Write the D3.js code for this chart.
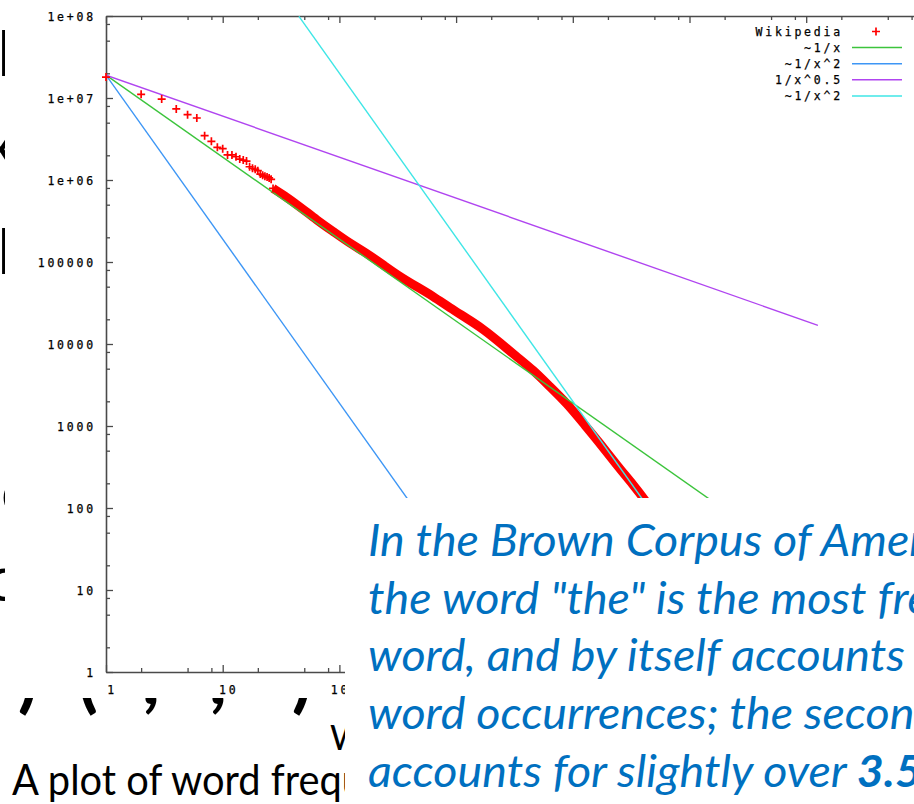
<!DOCTYPE html>
<html>
<head>
<meta charset="utf-8">
<script src="https://cdn.jsdelivr.net/npm/d3@7"></script>
<style>
  html, body { margin: 0; padding: 0; background: #fff; overflow: hidden; }
  svg { display: block; }
</style>
</head>
<body>
<svg id="slide" width="914" height="804"></svg>
<script>
// ---- Wikipedia word frequencies (rank, occurrences) ----
const wikiRank = [1, 2, 3, 4, 5, 6, 7, 8, 9, 10, 11, 12, 13, 14, 15, 16, 17, 18, 19, 20,
  21, 22, 23, 24, 25, 26, 27, 33, 46, 64, 89, 123, 171, 238, 331, 460, 638, 887, 1233,
  1711, 2378, 3305, 4592, 6382, 8868, 12300, 17100, 23800, 33000, 41600, 55000, 80000, 120000];
const wikiFreq = [1.80e7, 1.11e7, 9.7e6, 7.35e6, 6.26e6, 5.70e6, 3.47e6, 2.96e6, 2.50e6, 2.41e6,
  2.02e6, 2.02e6, 1.92e6, 1.80e6, 1.75e6, 1.70e6, 1.45e6, 1.39e6, 1.35e6, 1.30e6,
  1.18e6, 1.14e6, 1.11e6, 1.09e6, 1.06e6, 1.02e6, 7.9e5, 6.6e5, 4.7e5, 3.25e5, 2.34e5,
  1.69e5, 1.28e5, 9.2e4, 6.6e4, 5.0e4, 3.8e4, 2.75e4, 2.06e4, 1.52e4, 1.04e4, 7.0e3,
  4.8e3, 3.0e3, 1.9e3, 1.08e3, 615, 334, 191, 125, 70, 32, 12];
// ranks from here on overlap into a solid band of markers
const denseFrom = 27;

// ---- reference power laws, given by their end points (rank, occurrences) ----
const fitInvX    = [[1, 1.9e7], [1.26e6, 15.1]];     // ~1/x
const fitInvX2   = [[1, 1.9e7], [4360, 1]];          // ~1/x^2
const fitInvSqrt = [[1, 1.9e7], [1.26e6, 16900]];    // 1/x^0.5
const fitInvX2b  = [[45, 9.9e7], [447000, 1]];       // ~1/x^2 (shifted)

const legendLabels = ["Wikipedia", "~1/x", "~1/x^2", "1/x^0.5", "~1/x^2"];
const seriesColors = ["#ff0000", "#3cc43c", "#3d96f5", "#b045f0", "#3fe6e6"];

// ---- axis ticks ----
const xMajorTicks = [1, 10, 100, 1000, 1e4, 1e5, 1e6, 1e7];
const xTickLabels = ["1", "10", "100", "1000", "10000", "100000", "1e+06", "1e+07"];
const yMajorTicks = [1, 10, 100, 1000, 1e4, 1e5, 1e6, 1e7, 1e8];
const yTickLabels = ["1", "10", "100", "1000", "10000", "100000", "1e+06", "1e+07", "1e+08"];
const minorSteps = [2, 5, 8];

// ---- slide text ----
const noteLines = [
  [{ t: "In the Brown Corpus of American English text," }],
  [{ t: "the word \"the\" is the most frequently occurring" }],
  [{ t: "word, and by itself accounts for nearly 7% of all" }],
  [{ t: "word occurrences; the second-place word \"of\"" }],
  [{ t: "accounts for slightly over " }, { t: "3.5%", b: true }, { t: " of words" }]
];
const captionText = "A plot of word frequency in Wikipedia (November 27, 2006)";
const sideGlyphs = [
  { ch: "l", x: -2.5, y: 76 }, { ch: "x", x: -15, y: 166 }, { ch: "l", x: -2.5, y: 274 },
  { ch: "s", x: -27, y: 401 }, { ch: "o", x: 1, y: 514 }, { ch: "c", x: -13, y: 601 }
];
const formulaGlyphs = [
  { ch: ")", x: 28 }, { ch: "(", x: 88 }, { ch: ",", x: 151 }, { ch: ",", x: 218 }, { ch: ")", x: 302 }
];

const svg = d3.select("#slide");

// ---------- slide background text (mostly hidden behind the chart) ----------
const bg = svg.append("g").attr("fill", "#000").style("font-family", "Lato, 'Open Sans', sans-serif");
bg.selectAll("text.side").data(sideGlyphs).join("text")
  .attr("class", "side").attr("x", d => d.x).attr("y", d => d.y)
  .style("font-size", "62px").text(d => d.ch);
bg.selectAll("text.formula").data(formulaGlyphs).join("text")
  .attr("class", "formula").attr("x", d => d.x).attr("y", 704)
  .attr("text-anchor", "middle").style("font-size", "74px").style("font-weight", 700)
  .text(d => d.ch);
bg.append("text").attr("x", 330).attr("y", 750).style("font-size", "34px").text("W");

// caption, compressed to the slide's narrow face
const cap = bg.append("text").attr("y", 0).style("font-size", "43px").text("A plot of word freq");
const capScale = 330 / cap.node().getComputedTextLength();
cap.text(captionText).attr("transform", `translate(12,795) scale(${capScale},1)`);

// ---------- chart ----------
const chart = svg.append("g");
chart.append("rect").attr("x", 5).attr("y", 0).attr("width", 909).attr("height", 698).attr("fill", "#fff");

const x = d3.scaleLog().domain([1, 1e7]).range([106, 106 + 7 * 116.7]);
const y = d3.scaleLog().domain([1, 1e8]).range([672, 16]);

const minorOf = majors => majors.slice(0, -1).flatMap(d => minorSteps.map(m => d * m));
const xMinor = minorOf(xMajorTicks);
const yMinor = minorOf(yMajorTicks);

chart.append("clipPath").attr("id", "plotClip").append("rect")
  .attr("x", 106).attr("y", 16).attr("width", 7 * 116.7).attr("height", 656);

const axisColor = "#4a4a4a";
function styleAxis(g, keepDomain) {
  g.select(".domain").attr("stroke", axisColor).attr("stroke-width", 1.6);
  if (!keepDomain) g.select(".domain").remove();
  g.selectAll(".tick line").attr("stroke", axisColor).attr("stroke-width", 1.3);
  g.selectAll(".tick text").remove();
}
chart.append("g").attr("transform", "translate(0,672)")
  .call(d3.axisBottom(x).tickValues(xMajorTicks).tickSize(-7).tickSizeOuter(0).tickFormat(""))
  .call(g => styleAxis(g, true));
chart.append("g").attr("transform", "translate(0,672)")
  .call(d3.axisBottom(x).tickValues(xMinor).tickSize(-4).tickFormat(""))
  .call(g => styleAxis(g, false));
chart.append("g").attr("transform", "translate(0,16)")
  .call(d3.axisTop(x).tickValues(xMajorTicks).tickSize(-7).tickSizeOuter(0).tickFormat(""))
  .call(g => styleAxis(g, true));
chart.append("g").attr("transform", "translate(0,16)")
  .call(d3.axisTop(x).tickValues(xMinor).tickSize(-4).tickFormat(""))
  .call(g => styleAxis(g, false));
chart.append("g").attr("transform", "translate(106,0)")
  .call(d3.axisLeft(y).tickValues(yMajorTicks).tickSize(-7).tickSizeOuter(0).tickFormat(""))
  .call(g => styleAxis(g, true));
chart.append("g").attr("transform", "translate(106,0)")
  .call(d3.axisLeft(y).tickValues(yMinor).tickSize(-4).tickFormat(""))
  .call(g => styleAxis(g, false));

const monoFont = "'DejaVu Sans Mono', 'Liberation Mono', monospace";
const tickText = sel => sel.style("font-family", monoFont).style("font-size", "11.5px")
  .style("letter-spacing", "2.8px").attr("fill", "#000")
  .attr("stroke", "#000").attr("stroke-width", 0.25);

chart.append("g").selectAll("text").data(xMajorTicks).join("text")
  .attr("x", d => x(d) + 6).attr("y", 694).attr("text-anchor", "middle")
  .call(tickText).text((d, i) => xTickLabels[i]);
chart.append("g").selectAll("text").data(yMajorTicks).join("text")
  .attr("x", 96).attr("y", d => y(d) + 4.5).attr("text-anchor", "end")
  .call(tickText).text((d, i) => yTickLabels[i]);

// data: dense tail drawn as a heavy band, every point as a "+" marker
const plot = chart.append("g").attr("clip-path", "url(#plotClip)");
const wiki = wikiRank.map((r, i) => [r, wikiFreq[i]]);
const bandLine = d3.line().x(d => x(d[0])).y(d => y(d[1])).curve(d3.curveBasis);
const band = wiki.filter(d => d[0] >= denseFrom);
plot.append("path")
  .datum(band)
  .attr("d", bandLine)
  .attr("fill", "none").attr("stroke", seriesColors[0]).attr("stroke-width", 9)
  .attr("stroke-linejoin", "round").attr("stroke-linecap", "butt");
const plus = "M-4,0H4M0,-4V4";
chart.append("g").selectAll("path").data(wiki.filter(d => d[0] < denseFrom + 7)).join("path")
  .attr("transform", d => `translate(${x(d[0])},${y(d[1])})`)
  .attr("d", plus).attr("stroke", seriesColors[0]).attr("stroke-width", 1.7).attr("fill", "none");

// reference lines drawn over the data
const line = d3.line().x(d => x(d[0])).y(d => y(d[1]));
[fitInvX, fitInvX2, fitInvSqrt, fitInvX2b].forEach((pts, i) => {
  plot.append("path").datum(pts).attr("d", line)
    .attr("fill", "none").attr("stroke", seriesColors[i + 1]).attr("stroke-width", 1.4);
});

// legend
const legend = chart.append("g");
legendLabels.forEach((lab, i) => {
  const cy = 31.5 + 16.1 * i;
  legend.append("text").attr("x", 843).attr("y", cy + 4.5).attr("text-anchor", "end")
    .call(tickText).text(lab);
  if (i === 0) {
    legend.append("path").attr("transform", `translate(876,${cy})`).attr("d", plus)
      .attr("stroke", seriesColors[0]).attr("stroke-width", 1.7);
  } else {
    legend.append("line").attr("x1", 852).attr("x2", 902).attr("y1", cy).attr("y2", cy)
      .attr("stroke", seriesColors[i]).attr("stroke-width", 1.5);
  }
});

// ---------- quotation box ----------
const box = svg.append("g");
box.append("rect").attr("x", 345).attr("y", 498).attr("width", 569).attr("height", 306).attr("fill", "#fff");

const noteFont = "Lato, 'Open Sans', sans-serif";
const probe = box.append("text").style("font-family", noteFont).style("font-style", "italic")
  .style("font-size", "44px").text("word, and by itself accounts");
const noteScale = 537 / probe.node().getComputedTextLength();
probe.remove();

const baselines = [556, 614, 671, 729, 787];
const noteG = box.append("g").attr("fill", "#0070C0")
  .style("font-family", noteFont).style("font-style", "italic").style("font-size", "44px");
noteLines.forEach((parts, i) => {
  const t = noteG.append("text").attr("x", 0).attr("y", 0)
    .attr("transform", `translate(368,${baselines[i]}) scale(${noteScale},1)`)
    .attr("xml:space", "preserve").style("white-space", "pre");
  parts.forEach(p => t.append("tspan").style("font-weight", p.b ? 700 : 400).text(p.t));
});
</script>
</body>
</html>
